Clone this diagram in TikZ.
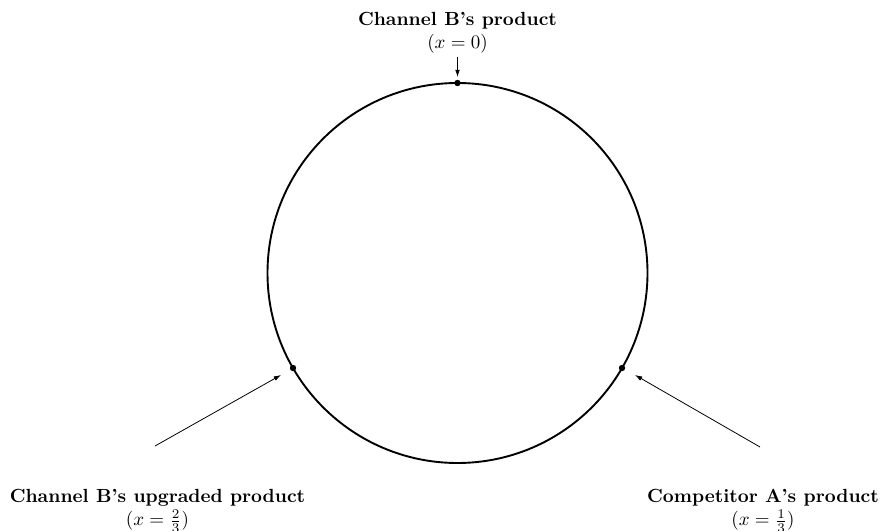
\documentclass[tikz,border=0pt]{standalone}
\usetikzlibrary{arrows.meta}
\begin{document}
\begin{tikzpicture}[x=0.526pt,y=-0.526pt,
  ring/.style={line width=1.0pt},
  dot/.style={fill=black},
  pointer/.style={line width=0.42pt,-{Latex[length=3.8pt,width=2.5pt]}},
  lbl/.style={align=center,inner sep=0pt,font=\normalsize}]
\useasboundingbox (0,0) rectangle (880,531);
\coordinate (O) at (457.5,273);
\draw[ring] (O) circle [radius=190];
\coordinate (pB) at (457.5,83);
\coordinate (pA) at (622,368);
\coordinate (pU) at (293,368);
\fill[dot] (pB) circle [radius=3.2];
\fill[dot] (pA) circle [radius=3.2];
\fill[dot] (pU) circle [radius=3.2];
\node[lbl] (lB) at (457.5,33) {\textbf{Channel B's product}\\$(x=0)$};
\node[lbl] (lU) at (157.5,511) {\textbf{Channel B's upgraded product}\\$(x=\frac{2}{3})$};
\node[lbl] (lA) at (763,511) {\textbf{Competitor A's product}\\$(x=\frac{1}{3})$};
\coordinate (tB) at (457.5,57);
\coordinate (hB) at (457.5,77);
\coordinate (tA) at (760,447);
\coordinate (hA) at (635,375);
\coordinate (tU) at (155,446);
\coordinate (hU) at (281,375);
\draw[pointer] (tB) -- (hB);
\draw[pointer] (tA) -- (hA);
\draw[pointer] (tU) -- (hU);
\end{tikzpicture}
\end{document}
